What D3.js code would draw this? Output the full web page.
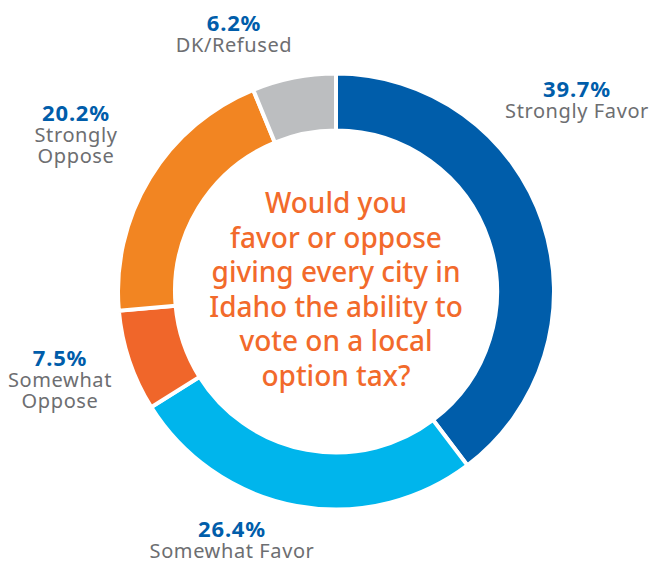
<!DOCTYPE html>
<html>
<head>
<meta charset="utf-8">
<script src="https://cdn.jsdelivr.net/npm/d3@7"></script>
<style>
  body { margin: 0; background: #fff; }
  svg text { font-family: "Noto Sans", "Open Sans", sans-serif; }
</style>
</head>
<body>
<div id="chart"></div>
<script>
// 数据
const categories = ["Strongly Favor", "Somewhat Favor", "Somewhat Oppose", "Strongly Oppose", "DK/Refused"];
const values = [39.7, 26.4, 7.5, 20.2, 6.2];
const colors = ["#005DAA", "#00B5EC", "#F0662A", "#F28522", "#BCBEC0"];
const question = ["Would you", "favor or oppose", "giving every city in", "Idaho the ability to", "vote on a local", "option tax?"];

// 标签位置 (中心x, 百分比基线y)
const labelPos = {
  "Strongly Favor": [577, 97],
  "Somewhat Favor": [232, 537],
  "Somewhat Oppose": [60, 366],
  "Strongly Oppose": [76, 121],
  "DK/Refused": [234, 31]
};
const labelLines = {
  "Strongly Favor": ["Strongly Favor"],
  "Somewhat Favor": ["Somewhat Favor"],
  "Somewhat Oppose": ["Somewhat", "Oppose"],
  "Strongly Oppose": ["Strongly", "Oppose"],
  "DK/Refused": ["DK/Refused"]
};

const width = 650, height = 563;
const cx = 336, cy = 291.5;
const outerR = 218, innerR = 161;

const svg = d3.select("#chart").append("svg")
  .attr("width", width)
  .attr("height", height);

const data = categories.map((c, i) => ({ name: c, value: values[i], color: colors[i] }));

const pie = d3.pie().value(d => d.value).sort(null);
const arc = d3.arc().innerRadius(innerR).outerRadius(outerR);

const g = svg.append("g").attr("transform", `translate(${cx},${cy})`);

g.selectAll("path")
  .data(pie(data))
  .join("path")
  .attr("d", arc)
  .attr("fill", d => d.data.color)
  .attr("stroke", "#fff")
  .attr("stroke-width", 4)
  .attr("stroke-linejoin", "miter");

// 中心问题
g.append("text")
  .attr("text-anchor", "middle")
  .attr("fill", "#F26A2B")
  .attr("font-size", 28)
  .attr("font-weight", 500)
  .selectAll("tspan")
  .data(question)
  .join("tspan")
  .attr("x", 0)
  .attr("y", (d, i) => 213 - cy + i * 34.6)
  .text(d => d);

// 外部标签
const labels = svg.append("g")
  .selectAll("g")
  .data(data)
  .join("g")
  .attr("transform", d => `translate(${labelPos[d.name][0]},${labelPos[d.name][1]})`);

labels.append("text")
  .attr("text-anchor", "middle")
  .attr("fill", "#005DAA")
  .attr("font-size", 22)
  .attr("font-weight", 700)
  .attr("letter-spacing", 0.8)
  .text(d => d.value.toFixed(1) + "%");

labels.append("text")
  .attr("text-anchor", "middle")
  .attr("fill", "#6D6E71")
  .attr("font-size", 20)
  .attr("letter-spacing", 0.6)
  .selectAll("tspan")
  .data(d => labelLines[d.name])
  .join("tspan")
  .attr("x", 0)
  .attr("y", (d, i) => 21 + i * 21)
  .text(d => d);
</script>
</body>
</html>
